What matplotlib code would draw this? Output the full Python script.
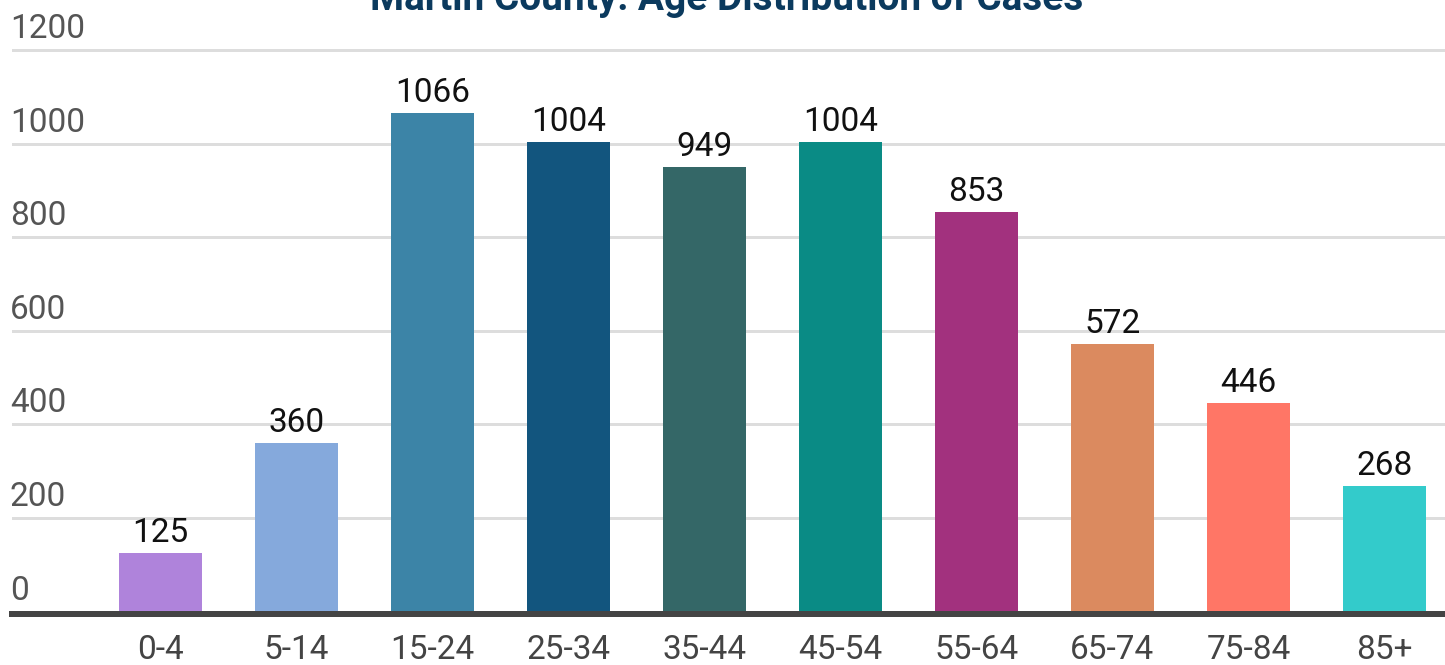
import matplotlib
matplotlib.use("Agg")
import matplotlib.pyplot as plt

categories = ["0-4", "5-14", "15-24", "25-34", "35-44", "45-54", "55-64", "65-74", "75-84", "85+"]
cases = [125, 360, 1066, 1004, 949, 1004, 853, 572, 446, 268]
colors = ["#AF83DB", "#85A9DC", "#3C84A7", "#12557E", "#346767",
          "#0A8B85", "#A2317E", "#DB8A5F", "#FF7666", "#33CBCB"]
yticks = [0, 200, 400, 600, 800, 1000, 1200]
title = "Martin County: Age Distribution of Cases"

plt.rcParams['font.family'] = ['Roboto', 'DejaVu Sans']

W, H = 1445, 665
fig = plt.figure(figsize=(W / 100, H / 100), dpi=100)
px = 0.468  # pixels per unit
ax_bottom_px = 614
ax_top_px = 40
ax = fig.add_axes([12 / W, (H - ax_bottom_px) / H, 1 - 12 / W, (ax_bottom_px - ax_top_px) / H])

x = list(range(len(categories)))
ax.bar(x, cases, width=0.61, color=colors, zorder=2)

ax.set_xlim((12 - 160.5) / 136, (1445 - 160.5) / 136)
ax.set_ylim(-2.5 / px, (611.5 - ax_top_px) / px)

for s in ["top", "right", "left"]:
    ax.spines[s].set_visible(False)
ax.spines["bottom"].set_color("#444444")
ax.spines["bottom"].set_linewidth(6 * 0.72)
ax.spines["bottom"].set_zorder(3)

ax.set_yticks(yticks)
ax.yaxis.grid(True, color="#DDDDDD", linewidth=3 * 0.72, zorder=0)
ax.tick_params(axis="y", length=0, labelleft=False)
for v in yticks:
    ax.annotate(str(v), xy=(0, v), xycoords=("axes fraction", "data"),
                xytext=(-1.5, 12 * 0.72), textcoords="offset points",
                ha="left", va="baseline", fontsize=24, color="#555555")

ax.set_xticks(x)
ax.set_xticklabels(categories, fontsize=24, color="#444444")
ax.tick_params(axis="x", length=0, pad=45 * 0.72)
for lab in ax.get_xticklabels():
    lab.set_va("baseline")

for xi, v in zip(x, cases):
    ax.annotate(str(v), xy=(xi, v), xytext=(0, 11 * 0.72), textcoords="offset points",
                ha="center", va="baseline", fontsize=24, color="#111111")

fig.text(727 / W, 1 - 10 / H, title, ha="center", va="baseline",
         fontsize=28, fontweight="bold", color="#0B3A5E")

fig.savefig("out.png", dpi=100)
